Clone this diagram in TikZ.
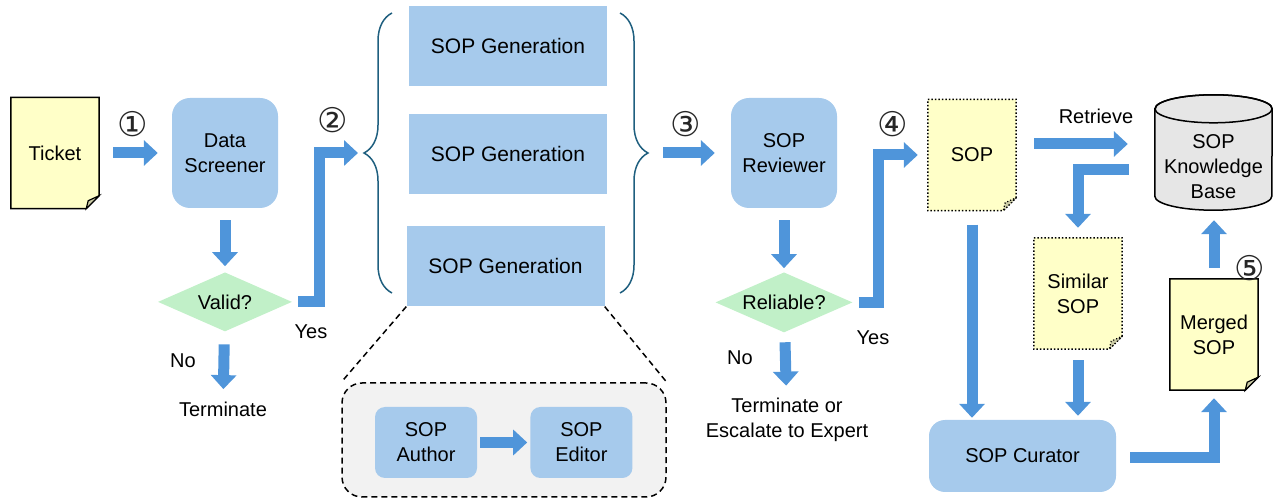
\documentclass[tikz,border=0pt]{standalone}
\usepackage{fontspec}
\usepackage{tikz}
\setmainfont{Liberation Sans}
\newfontfamily\numfont{DejaVu Sans}
\usetikzlibrary{shapes,arrows.meta,positioning,calc,decorations.pathreplacing,backgrounds}
\definecolor{agentblue}{HTML}{A6CAEC}
\definecolor{flowblue}{HTML}{4F95DA}
\definecolor{checkgreen}{HTML}{C1F0C8}
\definecolor{docyellow}{HTML}{FFFFC8}
\definecolor{foldgray}{HTML}{CBCBA5}
\definecolor{bracecolor}{HTML}{1F5F7F}
\definecolor{zoomgray}{HTML}{F2F2F2}
\definecolor{dbgray}{HTML}{E6E6E6}

% document outline with folded corner, drawn around a node
\newcommand{\foldeddoc}[2]{%
  \filldraw[#2, line width=1.5pt, fill=docyellow] (#1.north west) -- (#1.north east) -- ([yshift=13pt]#1.south east) -- ([xshift=-13pt]#1.south east) -- (#1.south west) -- cycle;
  \filldraw[#2, line width=1.2pt, fill=foldgray] ([yshift=13pt]#1.south east) -- ([xshift=-13pt]#1.south east) -- ([xshift=-11pt,yshift=8pt]#1.south east) -- cycle;
}

\begin{document}
\begin{tikzpicture}[x=1pt, y=1pt, font=\fontsize{20}{25}\selectfont]
        % Define styles
        \tikzstyle{agent} = [rectangle, rounded corners=18pt, text centered, align=center, fill=agentblue, minimum width=106pt, minimum height=110pt]
        \tikzstyle{subagent} = [rectangle, rounded corners=10pt, text centered, align=center, fill=agentblue, minimum width=102pt, minimum height=71pt]
        \tikzstyle{genbox} = [rectangle, text centered, fill=agentblue, minimum width=198pt, minimum height=80pt, font=\fontsize{21}{25}\selectfont]
        \tikzstyle{check} = [diamond, aspect=2.3, inner sep=0pt, fill=checkgreen, minimum width=134pt, minimum height=59pt]
        \tikzstyle{doc} = [rectangle, text centered, align=center, minimum width=88pt, minimum height=111pt]
        \tikzstyle{flow} = [line width=11pt, flowblue, line join=miter, -{Triangle[length=14pt,width=25pt]}]
        \tikzstyle{zoomline} = [line width=1.5pt, dash pattern=on 6pt off 4pt]
        \tikzstyle{curly} = [bracecolor, line width=1.5pt, decorate, decoration={brace, amplitude=28pt}]
        \tikzstyle{stepnum} = [font=\numfont\fontsize{34}{34}\selectfont, text=black!85]

        \useasboundingbox (0,0) rectangle (1274,500);

        % Ticket and screening
        \node (ticket) [doc] at (55,347) {Ticket};
        \node (screener) [agent] at (225,347) {Data\\Screener};
        \node (valid) [check, below=64pt of screener] {Valid?};
        \node (term1) at (223,91) {Terminate};
        \node (validno) at (183,139) {No};
        \node (validyes) at (311,168) {Yes};

        % Generation
        \node (gen2) [genbox] at (508,346) {SOP Generation};
        \node (gen1) [genbox, above=28pt of gen2] {SOP Generation};
        \node (gen3) [genbox, below=32pt of gen2, xshift=-2.5pt] {SOP Generation};
        \coordinate (ltip) at (364,347);
        \coordinate (rtip) at (648,347);
        \draw[curly] (392,207) -- (392,487);
        \draw[curly] (620,487) -- (620,207);

        % Zoom on one generation
        \node (zoombox) [rectangle, rounded corners=20pt, draw, zoomline, fill=zoomgray, minimum width=324pt, minimum height=114pt] at (504,60) {};
        \node (author) [subagent] at (426,57.5) {SOP\\Author};
        \node (editor) [subagent, right=53pt of author] {SOP\\Editor};
        \draw[zoomline] (gen3.south west) -- (zoombox.north west);
        \draw[zoomline] (gen3.south east) -- (zoombox.north east);

        % Review
        \node (reviewer) [agent] at (784,347) {SOP\\Reviewer};
        \node (reliable) [check, below=64pt of reviewer, minimum width=137pt, minimum height=60pt] {Reliable?};
        \node (term2) [align=center] at (787,80) {Terminate or\\Escalate to Expert};
        \node (reliableno) at (740,142) {No};
        \node (reliableyes) at (873,162) {Yes};

        % Knowledge base side
        \node (sop) [doc] at (972,345) {SOP};
        \node (similar) [doc] at (1078,206.5) {Similar\\SOP};
        \node (merged) [doc] at (1214,165.5) {Merged\\SOP};
        \node (kb) [rectangle, align=center, minimum width=117pt, minimum height=87pt] at (1213.5,333.5) {SOP\\Knowledge\\Base};
        \node (curator) [rectangle, rounded corners=16pt, fill=agentblue, minimum width=187pt, minimum height=72pt] at (1022.5,44) {SOP Curator};
        \node (retrieve) at (1096,384) {Retrieve};

        % Step numbers
        \node (step1) [stepnum] at (133,376) {①};
        \node (step2) [stepnum] at (333,380) {②};
        \node (step3) [stepnum] at (686,376) {③};
        \node (step4) [stepnum] at (893,376) {④};
        \node (step5) [stepnum] at (1250,232) {⑤};

        % Document and database outlines
        \begin{scope}[on background layer]
            \foldeddoc{ticket}{solid}
            \foldeddoc{merged}{solid}
            \foldeddoc{sop}{dotted}
            \foldeddoc{similar}{dotted}
            \filldraw[line width=1.5pt, fill=dbgray] ([yshift=14pt]kb.north west) -- ([yshift=14pt]kb.south west) arc[start angle=180, end angle=360, x radius=58.5pt, y radius=14pt] -- ([yshift=14pt]kb.north east) arc[start angle=0, end angle=180, x radius=58.5pt, y radius=14pt] -- cycle;
            \draw[line width=1.5pt] ([yshift=14pt]kb.north) ellipse [x radius=58.5pt, y radius=14pt];
        \end{scope}

        % Flow
        \draw[flow, shorten <=14pt, shorten >=14pt] (ticket) -- (screener);
        \draw[flow, shorten <=12pt, shorten >=6pt] (screener) -- (valid);
        \draw[flow, shorten <=13pt, shorten >=9pt] (valid) -- (term1);
        \draw[flow, shorten <=6pt, shorten >=6pt] (valid.east) -- ++(27,0) |- (ltip);
        \draw[flow, shorten <=15pt, shorten >=16pt] (rtip) -- (reviewer);
        \draw[flow, shorten <=3pt, shorten >=3pt] (author) -- (editor);
        \draw[flow, shorten <=12pt, shorten >=4pt] (reviewer) -- (reliable);
        \draw[flow, shorten <=10pt, shorten >=9pt] (reliable) -- (term2);
        \draw[flow, shorten <=6pt, shorten >=10pt] (reliable.east) -- ++(26,0) |- (sop.west);
        \draw[flow, shorten <=18pt, shorten >=27pt] ([yshift=11pt]sop.east) -- ([yshift=11pt]sop.east -| kb.west);
        \draw[flow, shorten <=26pt, shorten >=10pt] ([yshift=-3.5pt]kb.west) -| (similar.north);
        \draw[flow, shorten <=14pt, shorten >=2pt] (sop.south) -- (sop.south |- curator.north);
        \draw[flow, shorten <=11pt, shorten >=4pt] (similar.south) -- (similar.south |- curator.north);
        \draw[flow, shorten <=14pt, shorten >=8pt] ([yshift=-2pt]curator.east) -| (merged.south);
        \draw[flow, shorten <=11pt, shorten >=10pt] (merged.north) -- (merged.north |- kb.south);

    \end{tikzpicture}
\end{document}
